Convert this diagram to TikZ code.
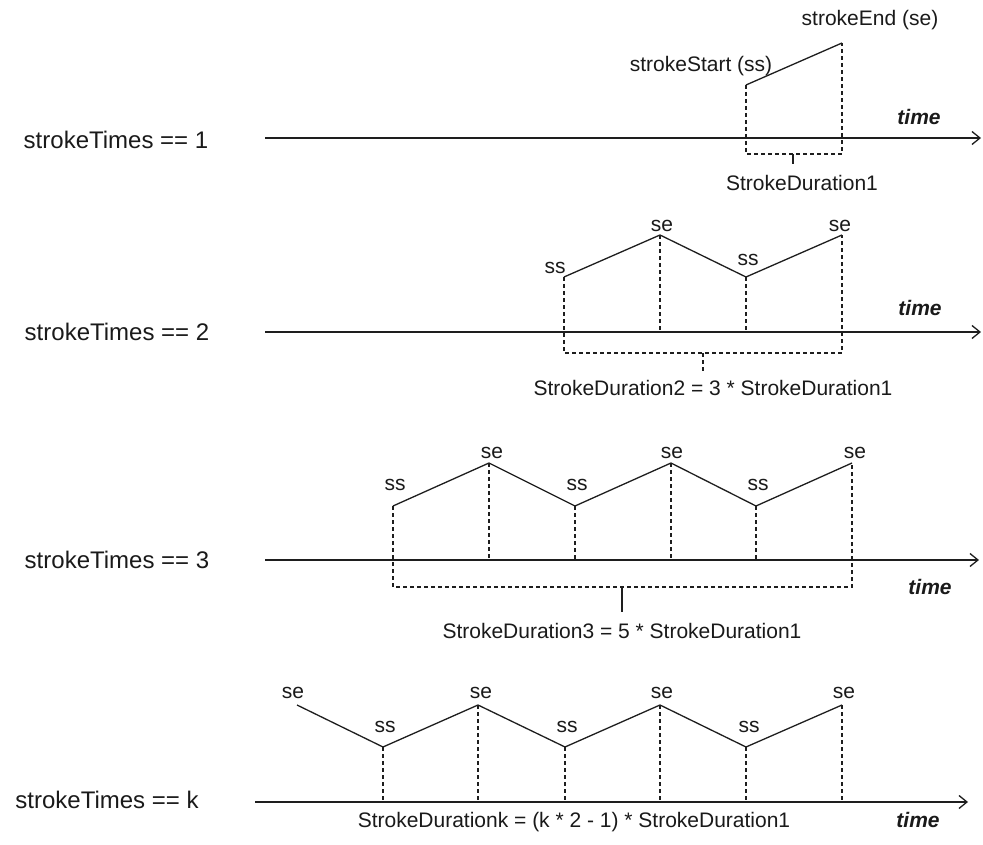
\documentclass[tikz,border=0pt]{standalone}
\usepackage{fontspec}
\setmainfont{Liberation Sans}
\usetikzlibrary{arrows.meta}
\definecolor{linec}{HTML}{1E1E1E}
\definecolor{txtc}{HTML}{1A1A1A}
\begin{document}
\begin{tikzpicture}[x=1pt,y=-1pt,
  axisline/.style={draw=linec,line width=1.3pt,-{Straight Barb[length=8pt,width=13pt,line width=1.3pt]}},
  strokeline/.style={draw=linec,line width=1.3pt,line join=round},
  guide/.style={draw=linec,line width=1.2pt,dash pattern=on 4pt off 3pt},
  tickline/.style={draw=linec,line width=1.2pt},
  lbl/.style={font=\fontsize{21}{24}\selectfont,text=txtc,inner sep=0pt},
  rowlbl/.style={font=\fontsize{24}{27}\selectfont,text=txtc,inner sep=0pt},
  timelbl/.style={font=\fontsize{21}{24}\selectfont\bfseries\itshape,text=txtc,inner sep=0pt}
]
\useasboundingbox (0,0) rectangle (983,845);
\fill[white] (0,0) rectangle (983,845);

% ---------------- Row 1 ----------------
\node[rowlbl] (r1) at (116,140) {strokeTimes == 1};
\coordinate (a1L) at (265,138);
\coordinate (a1R) at (981,138);
\draw[axisline] (a1L) -- (a1R);
\coordinate (a1s) at (746,85);
\coordinate (a1e) at (842,43);
\draw[strokeline] (a1s) -- (a1e);
\coordinate (a1b) at (793,154);
\coordinate (a1t) at (793,164);
\draw[guide] (a1s) |- (a1b) -| (a1e);
\draw[tickline] (a1b) -- (a1t);
\node[lbl] (a1sl) at (701,66) {strokeStart (ss)};
\node[lbl] (a1el) at (870,20) {strokeEnd (se)};
\node[timelbl] (a1time) at (919,117) {time};
\node[lbl] (a1d) at (802,183) {StrokeDuration1};

% ---------------- Row 2 ----------------
\node[rowlbl] (r2) at (117,332) {strokeTimes == 2};
\coordinate (a2L) at (265,332);
\coordinate (a2R) at (981,332);
\draw[axisline] (a2L) -- (a2R);
\coordinate (a2s1) at (564,277);
\coordinate (a2e1) at (660,235);
\coordinate (a2s2) at (746,277);
\coordinate (a2e2) at (842,235);
\draw[strokeline] (a2s1) -- (a2e1) -- (a2s2) -- (a2e2);
\draw[guide] (a2e1) -- (a2e1 |- a2L);
\draw[guide] (a2s2) -- (a2s2 |- a2L);
\coordinate (a2b) at (703,353);
\coordinate (a2t) at (703,372);
\draw[guide] (a2s1) |- (a2b) -| (a2e2);
\draw[guide] (a2b) -- (a2t);
\node[lbl] (a2s1l) at (555,268) {ss};
\node[lbl] (a2e1l) at (662,226) {se};
\node[lbl] (a2s2l) at (748,260) {ss};
\node[lbl] (a2e2l) at (840,226) {se};
\node[timelbl] (a2time) at (920,308) {time};
\node[lbl] (a2d) at (713,388) {StrokeDuration2 = 3 * StrokeDuration1};

% ---------------- Row 3 ----------------
\node[rowlbl] (r3) at (117,560) {strokeTimes == 3};
\coordinate (a3L) at (265,560);
\coordinate (a3R) at (979,560);
\draw[axisline] (a3L) -- (a3R);
\coordinate (a3s1) at (393,506);
\coordinate (a3e1) at (489,463);
\coordinate (a3s2) at (575,506);
\coordinate (a3e2) at (671,463);
\coordinate (a3s3) at (756,506);
\coordinate (a3e3) at (852,463);
\draw[strokeline] (a3s1) -- (a3e1) -- (a3s2) -- (a3e2) -- (a3s3) -- (a3e3);
\draw[guide] (a3e1) -- (a3e1 |- a3L);
\draw[guide] (a3s2) -- (a3s2 |- a3L);
\draw[guide] (a3e2) -- (a3e2 |- a3L);
\draw[guide] (a3s3) -- (a3s3 |- a3L);
\coordinate (a3b) at (622,587);
\coordinate (a3t) at (622,612);
\draw[guide] (a3s1) |- (a3b) -| (a3e3);
\draw[tickline] (a3b) -- (a3t);
\node[lbl] (a3s1l) at (395,485) {ss};
\node[lbl] (a3e1l) at (492,453) {se};
\node[lbl] (a3s2l) at (577,485) {ss};
\node[lbl] (a3e2l) at (672,453) {se};
\node[lbl] (a3s3l) at (758,485) {ss};
\node[lbl] (a3e3l) at (855,453) {se};
\node[timelbl] (a3time) at (930,587) {time};
\node[lbl] (a3d) at (622,631) {StrokeDuration3 = 5 * StrokeDuration1};

% ---------------- Row k ----------------
\node[rowlbl] (r4) at (107,800) {strokeTimes == k};
\coordinate (a4L) at (255,802);
\coordinate (a4R) at (968,802);
\draw[axisline] (a4L) -- (a4R);
\coordinate (a4e0) at (297,705);
\coordinate (a4s1) at (383,747);
\coordinate (a4e1) at (478,705);
\coordinate (a4s2) at (565,747);
\coordinate (a4e2) at (660,705);
\coordinate (a4s3) at (746,747);
\coordinate (a4e3) at (842,705);
\draw[strokeline] (a4e0) -- (a4s1) -- (a4e1) -- (a4s2) -- (a4e2) -- (a4s3) -- (a4e3);
\foreach \p in {a4s1,a4e1,a4s2,a4e2,a4s3,a4e3}
  \draw[guide] (\p) -- (\p |- a4L);
\node[lbl] (a4e0l) at (293,693) {se};
\node[lbl] (a4s1l) at (385,727) {ss};
\node[lbl] (a4e1l) at (481,693) {se};
\node[lbl] (a4s2l) at (567,727) {ss};
\node[lbl] (a4e2l) at (662,693) {se};
\node[lbl] (a4s3l) at (749,727) {ss};
\node[lbl] (a4e3l) at (844,693) {se};
\node[timelbl] (a4time) at (918,820) {time};
\node[lbl] (a4d) at (574,822) {StrokeDurationk = (k * 2 - 1) * StrokeDuration1};
\end{tikzpicture}
\end{document}
